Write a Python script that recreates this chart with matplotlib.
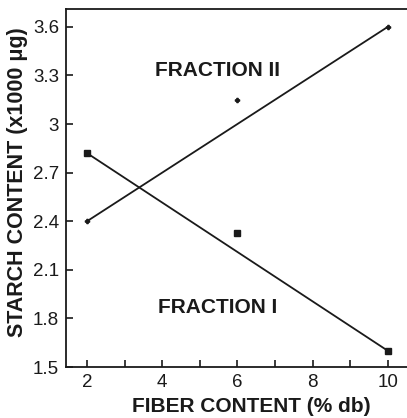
import matplotlib
matplotlib.use("Agg")
import matplotlib.pyplot as plt
from matplotlib.ticker import MultipleLocator, FuncFormatter

# measured points
fiber = [2, 6, 10]
frac_1 = [2.82, 2.33, 1.60]
frac_2 = [2.40, 3.15, 3.60]

# drawn fit lines (end points)
fit_x = [2, 10]
fit_1 = [2.82, 1.60]
fit_2 = [2.40, 3.60]

yticks = [1.5, 1.8, 2.1, 2.4, 2.7, 3.0, 3.3, 3.6]

plt.rcParams['font.family'] = ['Liberation Sans', 'DejaVu Sans']
ink = "#1a1a1a"

fig = plt.figure(figsize=(4.07, 4.18), dpi=100)
ax = fig.add_axes([66 / 407, 1 - 367 / 418, 1 - 66 / 407, (367 - 9) / 418])

ax.plot(fit_x, fit_1, color=ink, lw=1.3)
ax.plot(fit_x, fit_2, color=ink, lw=1.3)
ax.plot(fiber, frac_1, ls="none", marker="s", ms=4.5, color=ink)
ax.plot(fiber, frac_2, ls="none", marker="P", ms=3, color=ink)

ax.text(5.48, 3.33, "FRACTION II", ha="center", va="center",
        fontsize=15, fontweight="bold", color=ink)
ax.text(5.48, 1.87, "FRACTION I", ha="center", va="center",
        fontsize=15, fontweight="bold", color=ink)

ax.set_xlim(1.44, 10.51)
ax.set_ylim(1.5, 3.71)
ax.set_yticks(yticks)
ax.yaxis.set_major_formatter(FuncFormatter(lambda v, p: "%g" % round(v, 1)))
ax.xaxis.set_major_locator(MultipleLocator(2))
ax.xaxis.set_minor_locator(MultipleLocator(1))

ax.tick_params(axis="both", which="both", direction="in", length=5, width=1.2,
               colors=ink, labelsize=13.5)
ax.tick_params(axis="y", pad=5)
ax.tick_params(axis="x", pad=5)

for s in ["left", "top", "bottom"]:
    ax.spines[s].set_linewidth(1.3)
    ax.spines[s].set_color(ink)
ax.spines["right"].set_visible(False)

ax.set_xlabel("FIBER CONTENT (% db)", fontsize=15, fontweight="bold", color=ink)
ax.set_ylabel("STARCH CONTENT (x1000 \u03bcg)", fontsize=15.5, fontweight="bold", color=ink)
ax.xaxis.set_label_coords((251 - 66) / 341, -(407 - 367) / 358, transform=ax.transAxes)
ax.yaxis.set_label_coords(-(66 - 18) / 341, (367 - 182) / 358, transform=ax.transAxes)
ax.xaxis.label.set_va("center")
ax.yaxis.label.set_va("center")

fig.savefig("out.png", dpi=100)
